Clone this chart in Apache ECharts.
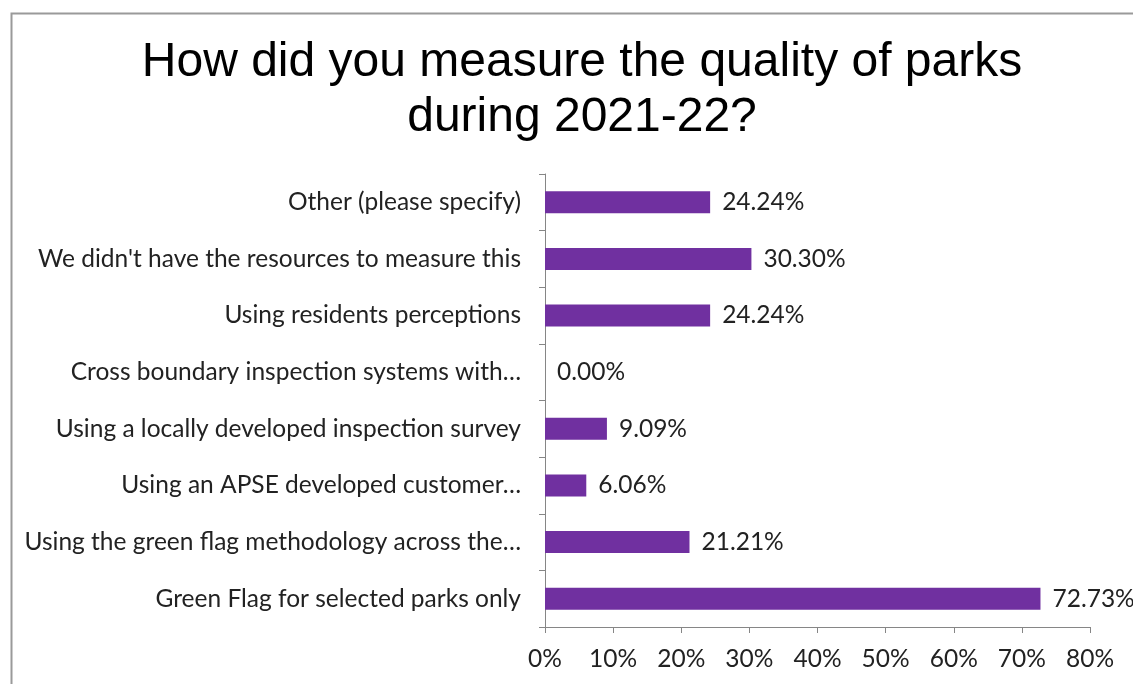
<!DOCTYPE html>
<html>
<head>
<meta charset="utf-8">
<script src="https://cdn.jsdelivr.net/npm/echarts@6/dist/echarts.min.js"></script>
<style>
  html, body { margin: 0; padding: 0; background: #fff; }
  #chart { width: 1133px; height: 684px; }
</style>
</head>
<body>
<div id="chart"></div>
<script>
// Survey responses, listed bottom to top as they appear on the axis
const categories = [
  'Green Flag for selected parks only',
  'Using the green flag methodology across the\u2026',
  'Using an APSE developed customer\u2026',
  'Using a locally developed inspection survey',
  'Cross boundary inspection systems with\u2026',
  'Using residents perceptions',
  "We didn't have the resources to measure this",
  'Other (please specify)'
];
const percentages = [72.73, 21.21, 6.06, 9.09, 0.00, 24.24, 30.30, 24.24];
const titleLines = ['How did you measure the quality of parks', 'during 2021-22?'];
const axisMax = 80;
const axisStep = 10;

const labelFont = 'Lato, "Open Sans", sans-serif';
const labelSize = 24.5;
const axisGray = '#868686';

const chart = echarts.init(document.getElementById('chart'), null, { renderer: 'canvas' });
chart.setOption({
  backgroundColor: '#ffffff',
  animation: false,
  graphic: [{
    type: 'rect',
    left: 9, top: 11,
    shape: { width: 1200, height: 720 },
    style: { fill: 'none', stroke: '#9a9a9a', lineWidth: 2 },
    silent: true, z: -1
  }],
  title: {
    text: titleLines.join('\n'),
    left: 577, top: 30,
    textAlign: 'center',
    textStyle: {
      fontFamily: '"Liberation Sans", Arial, sans-serif',
      fontSize: 48,
      fontWeight: 'normal',
      color: '#000',
      lineHeight: 55
    }
  },
  grid: { left: 545, right: 43, top: 174, bottom: 57, containLabel: false },
  xAxis: {
    type: 'value',
    min: 0, max: axisMax, interval: axisStep,
    axisLine: { show: true, lineStyle: { color: axisGray, width: 1 } },
    axisTick: { show: true, length: 6, lineStyle: { color: axisGray } },
    splitLine: { show: false },
    axisLabel: {
      formatter: '{value}%',
      margin: 20,
      fontFamily: labelFont, fontSize: labelSize, color: '#222'
    }
  },
  yAxis: {
    type: 'category',
    data: categories,
    axisLine: { show: true, lineStyle: { color: axisGray, width: 1 } },
    axisTick: { show: true, length: 6, alignWithLabel: false, lineStyle: { color: axisGray } },
    axisLabel: {
      margin: 24,
      fontFamily: labelFont, fontSize: labelSize, color: '#222'
    }
  },
  series: [{
    type: 'bar',
    data: percentages,
    barWidth: 22,
    itemStyle: { color: '#7030A0' },
    label: {
      show: true,
      position: 'right',
      distance: 12,
      formatter: p => p.value.toFixed(2) + '%',
      fontFamily: labelFont, fontSize: labelSize, color: '#222'
    }
  }]
});
</script>
</body>
</html>
